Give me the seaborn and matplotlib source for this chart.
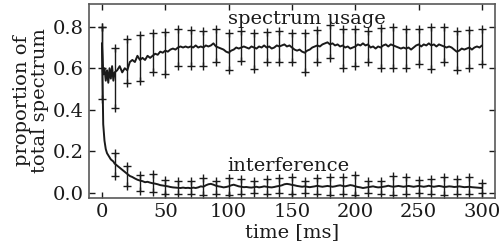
import numpy as np
import pandas as pd
import matplotlib
matplotlib.use("Agg")
import matplotlib.pyplot as plt
import seaborn as sns

# ---------------- data ----------------
time_fine = list(range(0, 11))            # 0..10 ms, 1 ms step
time_coarse = list(range(12, 301, 2))     # 12..300 ms, 2 ms step
time_ms = time_fine + time_coarse

spectrum_usage = [
    0.72, 0.57, 0.60, 0.54, 0.59, 0.53, 0.60, 0.55, 0.61, 0.54, 0.58,
    0.59, 0.61, 0.58, 0.60, 0.59,
    0.63, 0.64, 0.63, 0.66, 0.64, 0.65, 0.64, 0.66, 0.65, 0.66,
    0.67, 0.665, 0.68, 0.675, 0.685, 0.68, 0.69, 0.695, 0.69, 0.70,
    0.705, 0.70, 0.705, 0.70, 0.705, 0.70, 0.71, 0.70, 0.705, 0.70,
    0.71, 0.705, 0.71, 0.72, 0.705, 0.70, 0.695, 0.69, 0.68, 0.675,
    0.685, 0.69, 0.70, 0.695, 0.70, 0.705, 0.70, 0.695, 0.705, 0.70,
    0.695, 0.705, 0.70, 0.71, 0.70, 0.705, 0.695, 0.70, 0.71, 0.705,
    0.71, 0.715, 0.705, 0.71, 0.70, 0.69, 0.685, 0.69, 0.68, 0.675,
    0.685, 0.69, 0.70, 0.705, 0.71, 0.705, 0.715, 0.72, 0.725, 0.715,
    0.72, 0.71, 0.715, 0.705, 0.71, 0.70, 0.705, 0.695, 0.70, 0.705,
    0.715, 0.71, 0.72, 0.71, 0.715, 0.70, 0.705, 0.695, 0.705, 0.70,
    0.71, 0.715, 0.705, 0.715, 0.71, 0.705, 0.70, 0.695, 0.70, 0.695,
    0.70, 0.69, 0.70, 0.71, 0.715, 0.705, 0.715, 0.71, 0.72, 0.71,
    0.715, 0.705, 0.715, 0.71, 0.705, 0.70, 0.705, 0.70, 0.69, 0.68,
    0.685, 0.695, 0.69, 0.695, 0.70, 0.69, 0.70, 0.705, 0.70, 0.71,
]

interference = [
    0.72, 0.33, 0.25, 0.21, 0.19, 0.18, 0.17, 0.16, 0.155, 0.15, 0.14,
    0.13, 0.12, 0.11, 0.10, 0.09,
    0.08, 0.075, 0.068, 0.062, 0.058, 0.055, 0.05, 0.052, 0.048, 0.045,
    0.043, 0.04, 0.036, 0.034, 0.032, 0.03, 0.027, 0.025, 0.024, 0.023,
    0.022, 0.024, 0.022, 0.023, 0.021, 0.024, 0.022, 0.025, 0.03, 0.028,
    0.035, 0.04, 0.042, 0.038, 0.033, 0.03, 0.028, 0.025, 0.027, 0.03,
    0.035, 0.038, 0.034, 0.03, 0.028, 0.026, 0.027, 0.025, 0.024, 0.026,
    0.028, 0.025, 0.027, 0.03, 0.028, 0.026, 0.025, 0.027, 0.03, 0.032,
    0.035, 0.04, 0.042, 0.04, 0.037, 0.035, 0.032, 0.03, 0.028, 0.03,
    0.028, 0.026, 0.028, 0.03, 0.033, 0.03, 0.028, 0.03, 0.032, 0.03,
    0.028, 0.03, 0.033, 0.035, 0.032, 0.03, 0.033, 0.036, 0.034, 0.03,
    0.027, 0.025, 0.022, 0.024, 0.026, 0.028, 0.03, 0.027, 0.025, 0.026,
    0.028, 0.03, 0.033, 0.03, 0.028, 0.03, 0.032, 0.03, 0.028, 0.03,
    0.032, 0.03, 0.028, 0.03, 0.032, 0.03, 0.028, 0.03, 0.033, 0.03,
    0.028, 0.03, 0.032, 0.03, 0.027, 0.028, 0.03, 0.029, 0.027, 0.028,
    0.03, 0.028, 0.026, 0.027, 0.028, 0.026, 0.025, 0.024, 0.023, 0.022,
]

bar_time = list(range(0, 301, 10))
spectrum_hi = [0.80, 0.70, 0.74, 0.76, 0.77, 0.775, 0.79, 0.785, 0.78, 0.79,
               0.77, 0.78, 0.77, 0.775, 0.78, 0.77, 0.77, 0.785, 0.81, 0.79,
               0.79, 0.78, 0.795, 0.80, 0.79, 0.79, 0.80, 0.80, 0.78, 0.785,
               0.79]
spectrum_lo = [0.45, 0.41, 0.53, 0.54, 0.58, 0.57, 0.61, 0.61, 0.61, 0.63,
               0.59, 0.635, 0.595, 0.63, 0.63, 0.63, 0.58, 0.63, 0.65, 0.60,
               0.61, 0.63, 0.60, 0.60, 0.60, 0.62, 0.595, 0.63, 0.59, 0.60,
               0.62]
interf_hi = [0.80, 0.193, 0.128, 0.087, 0.09, 0.063, 0.058, 0.058, 0.072, 0.055,
             0.07, 0.066, 0.055, 0.066, 0.07, 0.074, 0.058, 0.07, 0.074, 0.074,
             0.086, 0.058, 0.058, 0.078, 0.074, 0.061, 0.066, 0.074, 0.066, 0.074,
             0.045]
interf_lo = [0.60, 0.078, 0.031, 0.006, 0.005, -0.005, -0.005, -0.005, -0.012, -0.005,
             -0.01, -0.005, 0.0, -0.005, 0.0, -0.005, 0.0, -0.005, -0.01, -0.005,
             -0.01, 0.0, -0.005, -0.01, -0.005, 0.0, -0.005, -0.01, -0.005, -0.005,
             0.0]

# ---------------- style ----------------
sns.set_theme(style="ticks")
plt.rcParams["font.family"] = ["DejaVu Serif"]
plt.rcParams["mathtext.fontset"] = "dejavuserif"
FS = 14.0

fig = plt.figure(figsize=(5.03, 2.50), dpi=100)
ax = fig.add_axes([0.1775, 0.209, 0.806, 0.775])

lines = pd.DataFrame({"time": time_ms, "spectrum": spectrum_usage,
                      "interference": interference})
bars = pd.DataFrame({"time": bar_time, "s_hi": spectrum_hi, "s_lo": spectrum_lo,
                     "i_hi": interf_hi, "i_lo": interf_lo})

for hi, lo in (("s_hi", "s_lo"), ("i_hi", "i_lo")):
    mid = (bars[hi] + bars[lo]) / 2
    half = (bars[hi] - bars[lo]) / 2
    ax.errorbar(bars["time"], mid, yerr=half, fmt="none", ecolor="k",
                elinewidth=1.0, capsize=0, zorder=2)
    for col in (hi, lo):
        ax.plot(bars["time"], bars[col], linestyle="none", marker="+",
                color="k", markersize=6, markeredgewidth=1.0, zorder=2)

sns.lineplot(data=lines, x="time", y="spectrum", color="k", lw=1.4, ax=ax, zorder=3)
sns.lineplot(data=lines, x="time", y="interference", color="k", lw=1.4, ax=ax, zorder=3)

ax.set_xlim(-10, 310)
ax.set_ylim(-0.025, 0.91)
ax.set_xticks([0, 50, 100, 150, 200, 250, 300])
ax.set_yticks([0.0, 0.2, 0.4, 0.6, 0.8])
ax.set_yticklabels(["0.0", "0.2", "0.4", "0.6", "0.8"])
ax.tick_params(direction="in", length=4, width=1, top=True, right=True,
               labelsize=FS, colors="k", pad=4)
for sp in ax.spines.values():
    sp.set_visible(True)
    sp.set_color("0.35")
    sp.set_linewidth(1.2)

ax.set_xlabel("time [ms]", fontsize=FS, color="k", labelpad=1)
ax.set_ylabel("proportion of\ntotal spectrum", fontsize=FS, color="k",
              labelpad=3, linespacing=1.0)

ax.text(162, 0.815, "spectrum usage", ha="center", va="baseline",
        fontsize=FS, color="k")
ax.text(147, 0.105, "interference", ha="center", va="baseline",
        fontsize=FS, color="k")

fig.savefig("out.png", dpi=100)
